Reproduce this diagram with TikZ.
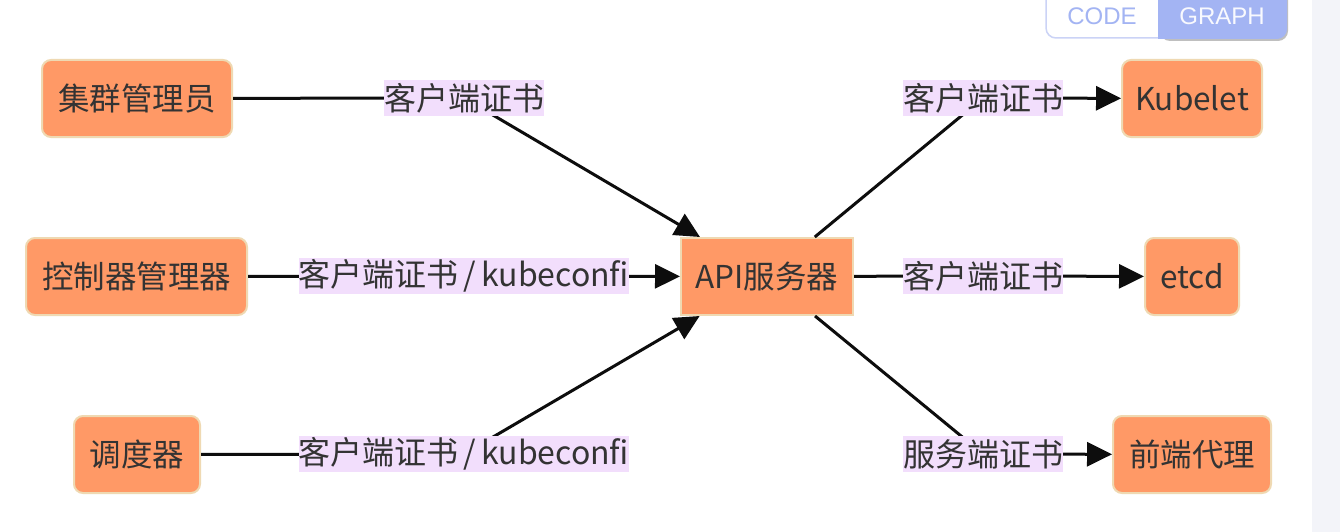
\documentclass[tikz,border=0pt]{standalone}
\usepackage{fontspec}
\setmainfont{Noto Sans CJK SC}
\newfontfamily\btnfont{Liberation Sans}
\usetikzlibrary{arrows.meta}
\definecolor{nodefill}{HTML}{FF9966}
\definecolor{nodeline}{HTML}{EFD9B2}
\definecolor{lblfill}{HTML}{F2DEFC}
\definecolor{txt}{HTML}{333333}
\definecolor{btn}{HTML}{A3B4F3}
\definecolor{btnline}{HTML}{CBD3F6}
\definecolor{strip}{HTML}{F3F4F9}
\newcommand{\slashsep}{\kern5pt/\kern5pt}
\tikzset{
  box/.style={draw=nodeline, line width=2pt, fill=nodefill, rounded corners=9pt,
    minimum height=77pt, inner sep=0pt, text=txt,
    font=\fontsize{31.5pt}{36pt}\selectfont},
  sqbox/.style={box, rounded corners=0pt},
  lbl/.style={fill=lblfill, inner sep=0pt, minimum height=36pt, text=txt,
    font=\fontsize{32pt}{36pt}\selectfont},
  edge/.style={line width=3pt, black!95},
  arr/.style={edge, -{Triangle[length=25pt,width=24pt]}},
}
\begin{document}
\begin{tikzpicture}[x=1pt,y=-1pt]
\useasboundingbox (0,0) rectangle (1340,532);
\fill[white] (0,0) rectangle (1340,532);
\fill[strip] (1312,0) rectangle (1340,532);
% buttons
\draw[btnline, line width=1.5pt, fill=white, rounded corners=10pt]
  (1046,-20) -- (1046,38) -- (1175,38) -- (1175,-20);
\fill[black!25, rounded corners=10pt] (1160,-20) -- (1160,41) -- (1288,41) -- (1288,-20) -- cycle;
\fill[btn, rounded corners=10pt] (1158,-20) -- (1158,39) -- (1287,39) -- (1287,-20) -- cycle;
\fill[btn] (1158,-20) rectangle (1170,39);
\node[text=btn, font=\btnfont\fontsize{24pt}{28pt}\selectfont] (code) at (1102,16) {CODE};
\node[text=white!92!btn, font=\btnfont\fontsize{24pt}{28pt}\selectfont] (graph) at (1222,16) {GRAPH};
% nodes
\node[box, minimum width=190pt] (admin) at (137,98.5) {集群管理员};
\node[box, minimum width=221pt] (ctrl) at (136.5,276.5) {控制器管理器};
\node[box, minimum width=126pt] (sched) at (137,454.5) {调度器};
\node[sqbox, minimum width=172pt] (api) at (767,276.5) {API服务器};
\node[box, minimum width=140pt] (kubelet) at (1192,98.5) {Kubelet};
\node[box, minimum width=94pt] (etcd) at (1192,276.5) {etcd};
\node[box, minimum width=158pt] (proxy) at (1192,454.5) {前端代理};
% label positions
\coordinate (c1) at (464,98);
\coordinate (c2) at (464,276);
\coordinate (c3) at (464,454);
\coordinate (c4) at (983,98);
\coordinate (c5) at (983,276);
\coordinate (c6) at (983,454);
% edges
\draw[arr] (admin) -- (c1) -- (api);
\draw[arr] (ctrl) -- (c2) -- (api);
\draw[arr] (sched) -- (c3) -- (api);
\draw[arr] (api) -- (c4) -- (kubelet);
\draw[arr] (api) -- (c5) -- (etcd);
\draw[arr] (api) -- (c6) -- (proxy);
% labels
\node[lbl] (l1) at (c1) {客户端证书};
\node[lbl] (l2) at (c2) {客户端证书\slashsep kubeconfi};
\node[lbl] (l3) at (c3) {客户端证书\slashsep kubeconfi};
\node[lbl] (l4) at (c4) {客户端证书};
\node[lbl] (l5) at (c5) {客户端证书};
\node[lbl] (l6) at (c6) {服务端证书};
\end{tikzpicture}
\end{document}
